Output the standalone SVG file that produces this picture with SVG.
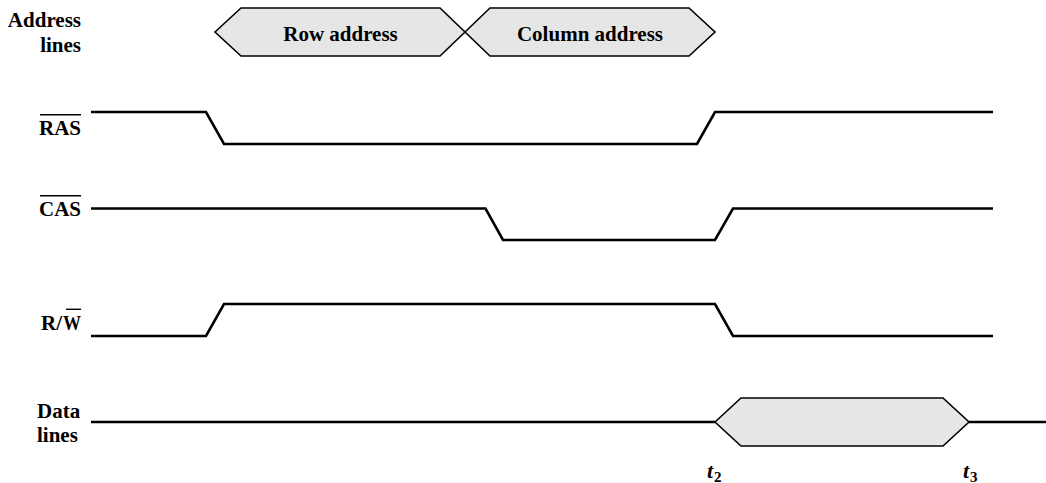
<svg xmlns="http://www.w3.org/2000/svg" width="1046" height="483" viewBox="0 0 1046 483">
<style>
text{font-family:'Liberation Serif','Times New Roman',Times,serif}
.lbl{font-weight:bold;font-size:21px;fill:#000}
.sig{fill:none;stroke:#000;stroke-width:2.6;stroke-linejoin:miter}
.bus{fill:#e6e6e6;stroke:#000;stroke-width:1.6}
.ovl{stroke:#000;stroke-width:1.4}
.t{font-weight:bold;font-style:italic;font-size:22px}
.sub{font-weight:bold;font-size:15px}
</style>
<rect width="1046" height="483" fill="#fff"/>
<g id="labels">
  <g id="lbl-address"><text class="lbl" x="81" y="27" text-anchor="end">Address</text><text class="lbl" x="81" y="52" text-anchor="end">lines</text></g>
  <g id="lbl-ras"><text class="lbl" x="81" y="135" text-anchor="end">RAS</text><line class="ovl" x1="40" y1="114.7" x2="81" y2="114.7"/></g>
  <g id="lbl-cas"><text class="lbl" x="81" y="216" text-anchor="end">CAS</text><line class="ovl" x1="40" y1="195.7" x2="81" y2="195.7"/></g>
  <g id="lbl-rw"><text class="lbl" x="62" y="330" text-anchor="end">R/</text><text class="lbl" x="81" y="330" text-anchor="end" textLength="18" lengthAdjust="spacingAndGlyphs">W</text><line class="ovl" x1="66" y1="309.3" x2="81" y2="309.3"/></g>
  <g id="lbl-data"><text class="lbl" x="37" y="418">Data</text><text class="lbl" x="37" y="442">lines</text></g>
</g>
<g id="bus-address">
  <g id="row-address"><polygon class="bus" points="215,32 241,8 440,8 465,32 440,56 241,56"/><text class="lbl" x="340.5" y="41" text-anchor="middle">Row address</text></g>
  <g id="column-address"><polygon class="bus" points="465,32 490,8 689,8 715,32 689,56 490,56"/><text class="lbl" x="590" y="41" text-anchor="middle">Column address</text></g>
</g>
<g id="connectors">
  <polyline id="ras" class="sig" points="91,112 206,112 224,144 697,144 715,112 993,112"/>
  <polyline id="cas" class="sig" points="91,208.5 485.5,208.5 503,240 715,240 733,208.5 993,208.5"/>
  <polyline id="rw" class="sig" points="91,336 206,336 224,304 715,304 733,336 993,336"/>
  <line class="sig" x1="91" y1="422" x2="715" y2="422"/>
  <line class="sig" x1="969" y1="422" x2="1046" y2="422"/>
</g>
<g id="bus-data"><polygon class="bus" points="715,422 741,398 943,398 969,422 943,446 741,446"/></g>
<g id="time-labels">
  <g id="t2"><text class="t" x="707" y="478">t</text><text class="sub" x="714" y="482">2</text></g>
  <g id="t3"><text class="t" x="963" y="478">t</text><text class="sub" x="970" y="482">3</text></g>
</g>
</svg>
